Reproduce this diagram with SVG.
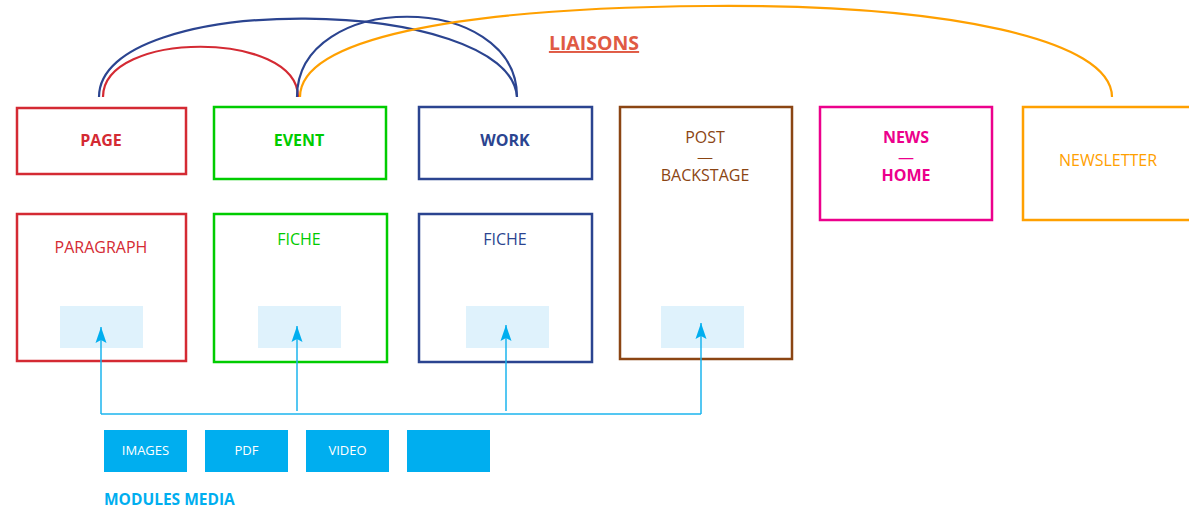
<svg xmlns="http://www.w3.org/2000/svg" width="1189" height="510" viewBox="0 0 1189 510">
<defs>
<style>
text{font-family:"Open Sans","Noto Sans","Liberation Sans",sans-serif;text-anchor:middle}
.box{fill:#fff;stroke-width:2.5}
.lbl{font-size:16px}
.b{font-weight:bold;font-size:16px}
.dash{font-size:11px}
.inner{fill:#DFF2FC}
.mod{fill:#00AEEF}
.modt{fill:#fff;font-size:13px}
.arc{fill:none;stroke-width:2.2}
.media{fill:none;stroke:#1BB4EE;stroke-width:1.5}
</style>
<marker id="ah" viewBox="0 0 16 12" refX="16" refY="6" markerWidth="16" markerHeight="12" markerUnits="userSpaceOnUse" orient="auto">
<path d="M16,6 L0,0.5 L3,6 L0,11.5 Z" fill="#00AEEF"/>
</marker>
</defs>
<rect width="1189" height="510" fill="#fff"/>

<g id="liaisons">
<text x="594" y="50" font-size="19.5" font-weight="bold" fill="#E05A44" text-decoration="underline">LIAISONS</text>
</g>

<g id="page">
<rect class="box" stroke="#D42A33" x="17" y="108" width="169" height="66"/>
<text class="lbl b" x="101" y="146" fill="#D42A33">PAGE</text>
</g>
<g id="event">
<rect class="box" stroke="#00CC00" x="214" y="107" width="172" height="72"/>
<text class="lbl b" x="299" y="146" fill="#00CC00">EVENT</text>
</g>
<g id="work">
<rect class="box" stroke="#2B4490" x="419" y="107" width="173" height="72"/>
<text class="lbl b" x="505" y="146" fill="#2B4490">WORK</text>
</g>
<g id="post">
<rect class="box" stroke="#8B4513" x="620" y="107" width="172" height="252"/>
<text class="lbl" x="705" y="143" fill="#8B4513">POST</text>
<text class="dash" x="705" y="160.5" fill="#8B4513" textLength="16" lengthAdjust="spacingAndGlyphs">—</text>
<text class="lbl" x="705" y="181" fill="#8B4513">BACKSTAGE</text>
<rect class="inner" x="661" y="306" width="83" height="42"/>
</g>
<g id="news">
<rect class="box" stroke="#EC008C" x="820" y="107" width="172" height="113"/>
<text class="lbl b" x="906" y="143" fill="#EC008C">NEWS</text>
<text class="dash" x="906" y="160.5" fill="#EC008C" font-weight="bold" textLength="16" lengthAdjust="spacingAndGlyphs">—</text>
<text class="lbl b" x="906" y="181" fill="#EC008C">HOME</text>
</g>
<g id="newsletter">
<rect class="box" stroke="#FFA000" x="1023" y="107" width="180" height="113"/>
<text class="lbl" x="1108" y="166" fill="#FFA000">NEWSLETTER</text>
</g>
<g id="paragraph">
<rect class="box" stroke="#D42A33" x="17" y="214" width="169" height="147"/>
<text class="lbl" x="101" y="253" fill="#D42A33">PARAGRAPH</text>
<rect class="inner" x="60" y="306" width="83" height="42"/>
</g>
<g id="fiche-event">
<rect class="box" stroke="#00CC00" x="214" y="214" width="173" height="148"/>
<text class="lbl" x="299" y="245" fill="#00CC00">FICHE</text>
<rect class="inner" x="258" y="306" width="83" height="42"/>
</g>
<g id="fiche-work">
<rect class="box" stroke="#2B4490" x="419" y="214" width="173" height="148"/>
<text class="lbl" x="505" y="245" fill="#2B4490">FICHE</text>
<rect class="inner" x="466" y="306" width="83" height="42"/>
</g>

<g id="modules">
<rect class="mod" x="104" y="430" width="83" height="42"/>
<text class="modt" x="145.5" y="455">IMAGES</text>
<rect class="mod" x="205" y="430" width="83" height="42"/>
<text class="modt" x="246.5" y="455">PDF</text>
<rect class="mod" x="306" y="430" width="83" height="42"/>
<text class="modt" x="347.5" y="455">VIDEO</text>
<rect class="mod" x="407" y="430" width="83" height="42"/>
<text x="104" y="505" font-size="15.5" font-weight="bold" fill="#00AEEF" style="text-anchor:start">MODULES MEDIA</text>
</g>

<g id="connectors">
<path class="arc" stroke="#2B4490" d="M99,97 C99,-10 510,-5 517,97"/>
<path class="arc" stroke="#D42A33" d="M103,97 C103,30 298,30 298,97"/>
<path class="arc" stroke="#2B4490" d="M297,97 C297,-10 517,-10 517,97"/>
<path class="arc" stroke="#FFA000" d="M300,97 C300,40 450,8 708,6 C950,4 1112,40 1112,97"/>
<path class="media" d="M101,414 L701,414"/>
<path class="media" d="M101,414 L101,327" marker-end="url(#ah)"/>
<path class="media" d="M297,411 L297,326" marker-end="url(#ah)"/>
<path class="media" d="M506,411 L506,325" marker-end="url(#ah)"/>
<path class="media" d="M701,414 L701,323" marker-end="url(#ah)"/>
</g>
</svg>
